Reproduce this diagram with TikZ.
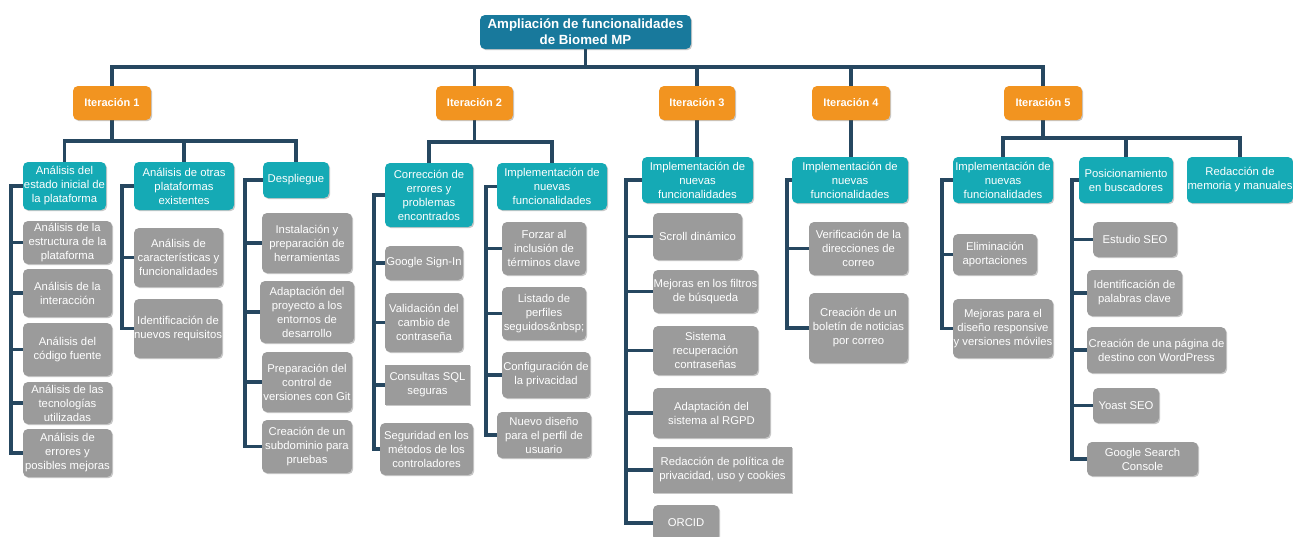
\documentclass[tikz,border=0pt]{standalone}
\usepackage{fontspec}
\setmainfont{Liberation Sans}
\usetikzlibrary{shadows}
\definecolor{rootc}{HTML}{18799C}
\definecolor{iterc}{HTML}{F29420}
\definecolor{phasec}{HTML}{15AAB5}
\definecolor{taskc}{HTML}{9B9B9B}
\definecolor{linec}{HTML}{264760}
\pgfdeclarelayer{bg}
\pgfsetlayers{bg,main}
\tikzset{
 box/.style={rounded corners=5pt, align=center, inner sep=0pt, text=white,
   font=\fontsize{11.3}{14}\selectfont,
   drop shadow={shadow xshift=1.2pt, shadow yshift=-1.2pt, opacity=0.3, fill=black!70}},
 rootbox/.style={box, fill=rootc, font=\bfseries\fontsize{13.3}{16}\selectfont},
 iterbox/.style={box, fill=iterc, font=\bfseries\fontsize{11}{13}\selectfont},
 phase/.style={box, fill=phasec},
 task/.style={box, fill=taskc},
 squared/.style={sharp corners},
 ln/.style={draw=linec, line width=3.5pt, line join=miter}
}
\newcommand\bx[7]{\node[#2, minimum width=#5pt, minimum height=#6pt] (#1) at (#3,#4) {#7};}
\begin{document}
\begin{tikzpicture}[x=1pt,y=-1pt]
\useasboundingbox (0,0) rectangle (1293,536);
% root and iterations
\bx{root}{rootbox}{585.5}{32}{211}{34}{Ampliación de funcionalidades\\de Biomed MP}
\bx{it1}{iterbox}{112}{103}{78}{34}{Iteración 1}
\bx{it2}{iterbox}{474.5}{103}{77}{34}{Iteración 2}
\bx{it3}{iterbox}{697}{103}{76}{34}{Iteración 3}
\bx{it4}{iterbox}{851}{103}{78}{34}{Iteración 4}
\bx{it5}{iterbox}{1043}{103}{78}{34}{Iteración 5}
% phases
\bx{t11}{phase}{64.5}{186}{83}{48}{Análisis del\\estado inicial de\\la plataforma}
\bx{t12}{phase}{184}{186}{100}{48}{Análisis de otras\\plataformas\\existentes}
\bx{t13}{phase}{296}{180}{66}{36}{Despliegue}
\bx{t21}{phase}{429}{195}{88}{64}{Corrección de\\errores y\\problemas\\encontrados}
\bx{t22}{phase}{552}{186.5}{110}{47}{Implementación de\\nuevas\\funcionalidades}
\bx{t31}{phase}{697.5}{180}{111}{46}{Implementación de\\nuevas\\funcionalidades}
\bx{t41}{phase}{850}{180}{116}{46}{Implementación de\\nuevas\\funcionalidades}
\bx{t51}{phase}{1003}{180}{100}{46}{Implementación de\\nuevas\\funcionalidades}
\bx{t52}{phase}{1126}{180}{94}{46}{Posicionamiento\\en buscadores}
\bx{t53}{phase}{1240}{180}{106}{46}{Redacción de\\memoria y manuales}
% tasks iteration 1
\bx{g111}{task}{67.5}{242.5}{89}{43}{Análisis de la\\estructura de la\\plataforma}
\bx{g112}{task}{67.5}{293}{89}{48}{Análisis de la\\interacción}
\bx{g113}{task}{67.5}{349.5}{89}{53}{Análisis del\\código fuente}
\bx{g114}{task}{67.5}{403}{89}{42}{Análisis de las\\tecnologías\\utilizadas}
\bx{g115}{task}{67.5}{453}{89}{48}{Análisis de\\errores y\\posibles mejoras}
\bx{g121}{task}{178.5}{257.5}{89}{59}{Análisis de\\características y\\funcionalidades}
\bx{g122}{task}{178}{328.5}{88}{59}{Identificación de\\nuevos requisitos}
\bx{g131}{task}{307}{243}{90}{60}{Instalación y\\preparación de\\herramientas}
\bx{g132}{task}{307}{312}{94}{62}{Adaptación del\\proyecto a los\\entornos de\\desarrollo}
\bx{g133}{task}{307}{382}{90}{60}{Preparación del\\control de\\versiones con Git}
\bx{g134}{task}{307}{446.5}{90}{53}{Creación de un\\subdominio para\\pruebas}
% tasks iteration 2
\bx{g211}{task}{424}{263}{78}{34}{Google Sign-In}
\bx{g212}{task}{424}{322.5}{78}{59}{Validación del\\cambio de\\contraseña}
\bx{g213}{task,squared}{427.5}{385}{85}{40}{Consultas SQL\\seguras}
\bx{g214}{task}{426.5}{449}{93}{52}{Seguridad en los\\métodos de los\\controladores}
\bx{g221}{task}{544}{248.5}{84}{53}{Forzar al\\inclusión de\\términos clave}
\bx{g222}{task}{544}{313.5}{84}{53}{Listado de\\perfiles\\seguidos\&nbsp;}
\bx{g223}{task}{546}{375}{88}{46}{Configuración de\\la privacidad}
\bx{g224}{task}{544}{435}{94}{46}{Nuevo diseño\\para el perfil de\\usuario}
% tasks iteration 3
\bx{g311}{task}{697.5}{236.5}{89}{47}{Scroll dinámico}
\bx{g312}{task}{705.5}{291.5}{105}{43}{Mejoras en los filtros\\de búsqueda}
\bx{g313}{task}{705.5}{350.5}{105}{49}{Sistema\\recuperación\\contraseñas}
\bx{g314}{task}{711.5}{413}{117}{50}{Adaptación del\\sistema al RGPD}
\bx{g315}{task,squared}{722.5}{470}{139}{46}{Redacción de política de\\privacidad, uso y cookies}
\bx{g316}{task}{686}{523}{66}{36}{ORCID}
% tasks iteration 4
\bx{g411}{task}{858.5}{248.5}{99}{53}{Verificación de la\\direcciones de\\correo}
\bx{g412}{task}{858.5}{328}{99}{70}{Creación de un\\boletín de noticias\\por correo}
% tasks iteration 5
\bx{g511}{task}{995}{254.5}{84}{41}{Eliminación\\aportaciones}
\bx{g512}{task}{1003}{328.5}{100}{59}{Mejoras para el\\diseño responsive\\y versiones móviles}
\bx{g521}{task}{1135}{239.5}{84}{35}{Estudio SEO}
\bx{g522}{task}{1134.5}{293}{95}{46}{Identificación de\\palabras clave}
\bx{g523}{task}{1156.5}{350}{139}{46}{Creación de una página de\\destino con WordPress}
\bx{g524}{task}{1126}{405.5}{66}{35}{Yoast SEO}
\bx{g525}{task}{1142.5}{459}{111}{34}{Google Search\\Console}
% helper coordinates
\coordinate (bus) at (0,67);
\coordinate (row1) at (0,141);
\coordinate (row2) at (0,142);
\coordinate (row5) at (0,138);
\coordinate (s11) at (11,0);
\coordinate (s12) at (122,0);
\coordinate (s13) at (245,0);
\coordinate (s21) at (374,0);
\coordinate (s22) at (486,0);
\coordinate (s31) at (626,0);
\coordinate (s41) at (787,0);
\coordinate (s51) at (942,0);
\coordinate (s52) at (1072,0);
\begin{pgfonlayer}{bg}
\fill[white] (0,0) rectangle (1293,536);
% top level
\draw[ln] (it1.north) -- (it1.north |- bus) -| (it5.north);
\foreach \n in {it2,it3,it4} \draw[ln] (\n.north) -- (\n.north |- bus);
\draw[ln] (root.south) -- (root.south |- bus);
% iteration rows
\draw[ln] (t11.north) -- (t11.north |- row1) -| (t13.north);
\draw[ln] (t12.north) -- (t12.north |- row1);
\draw[ln] (it1.south) -- (it1.south |- row1);
\draw[ln] (t21.north) -- (t21.north |- row2) -| (t22.north);
\draw[ln] (it2.south) -- (it2.south |- row2);
\draw[ln] (it3.south) -- (it3.south |- t31.north);
\draw[ln] (it4.south) -- (it4.south |- t41.north);
\draw[ln] (t51.north) -- (t51.north |- row5) -| (t53.north);
\draw[ln] (t52.north) -- (t52.north |- row5);
\draw[ln] (it5.south) -- (it5.south |- row5);
% spines
\draw[ln] (t11.west) -- (t11.west -| s11) |- (g115.west);
\foreach \c in {g111,g112,g113,g114} \draw[ln] (\c.west) -- (\c.west -| s11);
\draw[ln] (t12.west) -- (t12.west -| s12) |- (g122.west);
\draw[ln] (g121.west) -- (g121.west -| s12);
\draw[ln] (t13.west) -- (t13.west -| s13) |- (g134.west);
\foreach \c in {g131,g132,g133} \draw[ln] (\c.west) -- (\c.west -| s13);
\draw[ln] (t21.west) -- (t21.west -| s21) |- (g214.west);
\foreach \c in {g211,g212,g213} \draw[ln] (\c.west) -- (\c.west -| s21);
\draw[ln] (t22.west) -- (t22.west -| s22) |- (g224.west);
\foreach \c in {g221,g222,g223} \draw[ln] (\c.west) -- (\c.west -| s22);
\draw[ln] (t31.west) -- (t31.west -| s31) |- (g316.west);
\foreach \c in {g311,g312,g313,g314,g315} \draw[ln] (\c.west) -- (\c.west -| s31);
\draw[ln] (t41.west) -- (t41.west -| s41) |- (g412.west);
\draw[ln] (g411.west) -- (g411.west -| s41);
\draw[ln] (t51.west) -- (t51.west -| s51) |- (g512.west);
\draw[ln] (g511.west) -- (g511.west -| s51);
\draw[ln] (t52.west) -- (t52.west -| s52) |- (g525.west);
\foreach \c in {g521,g522,g523,g524} \draw[ln] (\c.west) -- (\c.west -| s52);
\end{pgfonlayer}
\end{tikzpicture}
\end{document}
